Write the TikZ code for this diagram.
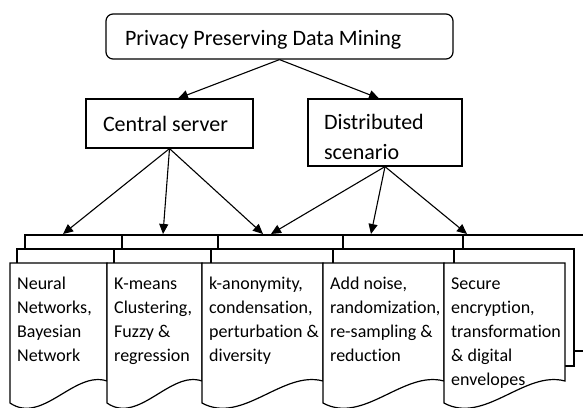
\documentclass[tikz,border=0pt]{standalone}
\usepackage{fontspec}
\setmainfont{Carlito}[Ligatures={TeX,NoCommon}]
\usetikzlibrary{arrows.meta}

% natural (font) interword spacing inside ragged node text
\newcommand{\natspace}{\spaceskip=0pt\xspaceskip=0pt\relax}

% One stacked "multi-document" shape: front sheet from x=#1 to x=#2,
% middle sheet offset by #3 (left) / #5 (right), back sheet by #4 / #6.
\newcommand{\multidoc}[8]{%
  \pgfmathsetmacro{\docw}{#2-#1}%
  \filldraw[docline] (#1+#4,235) rectangle (#2+#6,351);
  \filldraw[docline] (#1+#3,249) rectangle (#2+#5,366);
  \filldraw[docline] (#1,263) -- (#2,263) -- (#2,381)
     .. controls (#1+2*\docw/3,370) and (#1+\docw/3,425) .. (#1,403) -- cycle;
  \node[doctext] (#7) at (#1+7,272.7) {\natspace\strut #8};
}

\begin{document}
\begin{tikzpicture}[x=1pt,y=-1pt,
  boxline/.style={draw=black, line width=1.2pt},
  docline/.style={draw=black, fill=white, line width=1.2pt, line join=miter},
  toptext/.style={font=\fontsize{22}{30}\selectfont},
  doctext/.style={font=\fontsize{18}{24}\selectfont, text width=200pt,
                  anchor=north west, inner sep=0pt},
  arr/.style={line width=1.1pt, -{Triangle[length=10pt,width=9pt]}}]
\useasboundingbox[fill=white] (0,0) rectangle (583,407);

% documents, drawn left to right so each one covers the previous
\multidoc{10}{107}{7}{15}{7}{15}{d1}{Neural\\Networks,\\Bayesian\\Network}
\multidoc{107}{202}{7}{15}{9}{16}{d2}{K-means\\Clustering,\\Fuzzy \&\\regression}
\multidoc{202}{323}{9}{16}{10}{20}{d3}{k-anonymity,\\condensation,\\perturbation \&\\diversity}
\multidoc{323}{444}{10}{20}{10}{19}{d4}{Add noise,\\randomization,\\re-sampling \&\\reduction}
\multidoc{444}{565}{10}{19}{9}{30}{d5}{Secure\\encryption,\\transformation\\\& digital\\envelopes}

% category boxes
\node[boxline, rounded corners=7pt, minimum width=347pt, minimum height=45pt,
      inner xsep=19pt, text width=309pt, toptext] (ppdm) at (279.5,36.5)
      {\natspace\rule{0pt}{22pt}Privacy Preserving Data Mining};
\node[boxline, minimum width=167pt, minimum height=49pt,
      inner xsep=17pt, text width=133pt, toptext] (central) at (169.5,123.5)
      {\natspace Central server};
\node[boxline, minimum width=154pt, minimum height=67pt,
      inner xsep=16pt, text width=122pt, toptext] (distrib) at (385,132.5)
      {\natspace\rule{0pt}{25pt}Distributed\\scenario};

% arrow ends on the top edges of the document stacks
\coordinate (t1) at (63,234);
\coordinate (t2) at (163,234);
\coordinate (t3) at (263,234);
\coordinate (t4) at (271,234);
\coordinate (t5) at (371,234);
\coordinate (t6) at (467,234);

\draw[arr] (ppdm.south) -- ([xshift=8.5pt]central.north);
\draw[arr] (ppdm.south) -- ([xshift=-6pt]distrib.north);
\draw[arr] (central.south) -- (t1);
\draw[arr] (central.south) -- (t2);
\draw[arr] (central.south) -- (t3);
\draw[arr] (distrib.south) -- (t4);
\draw[arr] (distrib.south) -- (t5);
\draw[arr] (distrib.south) -- (t6);
\end{tikzpicture}
\end{document}
